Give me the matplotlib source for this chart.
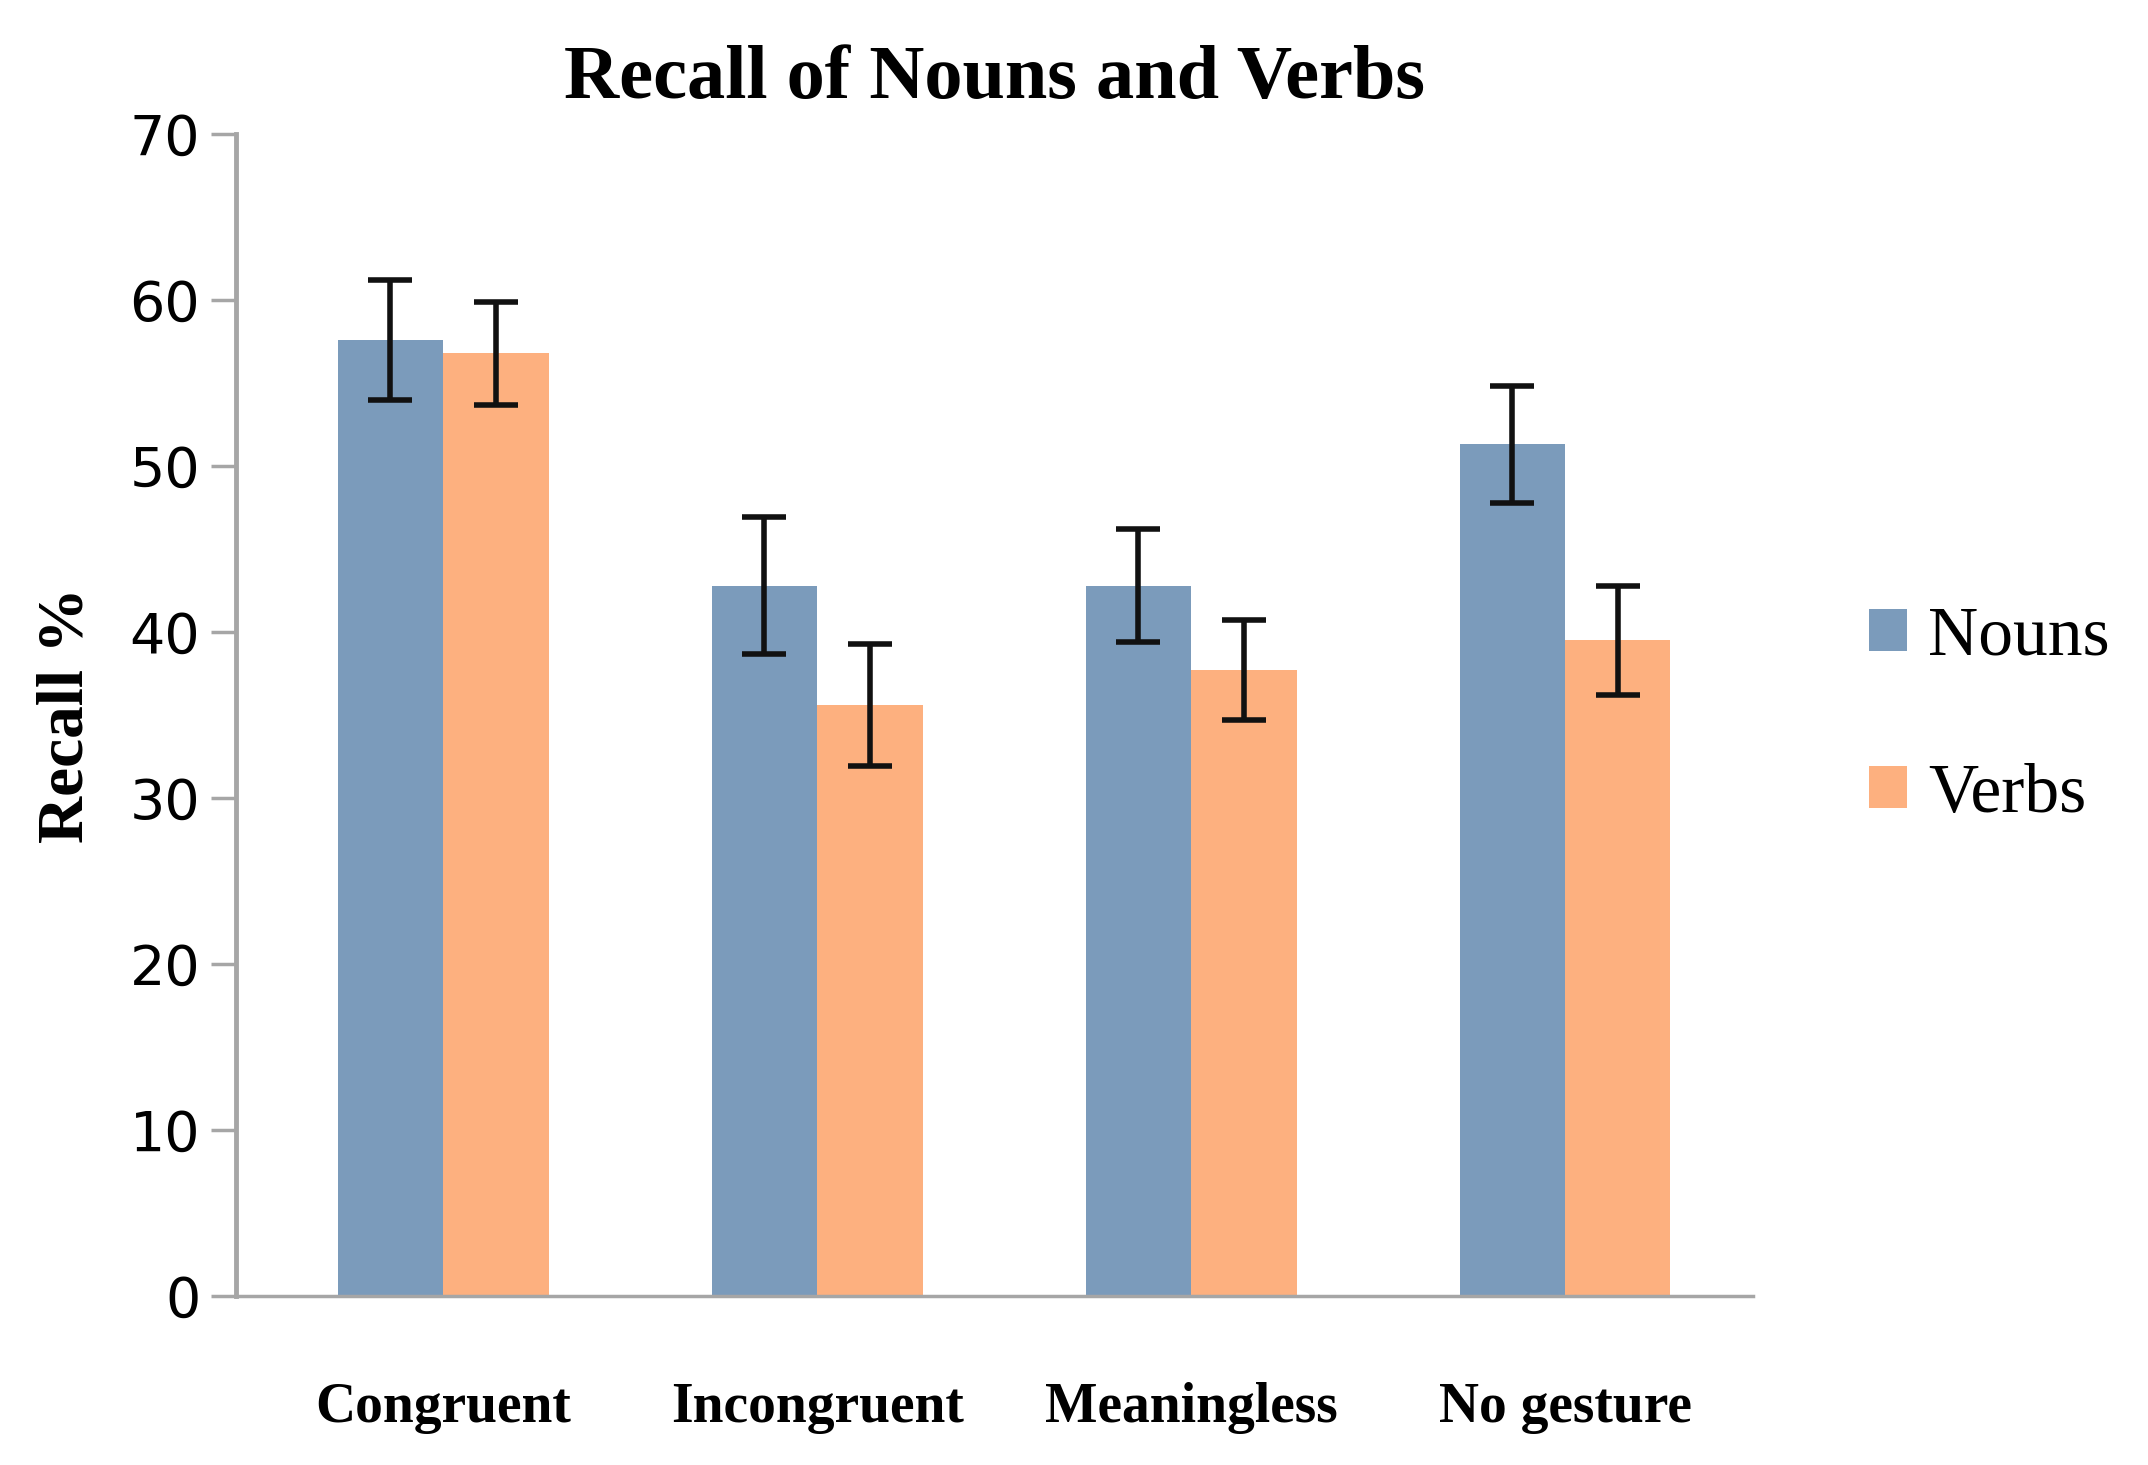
import numpy as np
import matplotlib.pyplot as plt

# data
categories = ['Congruent', 'Incongruent', 'Meaningless', 'No gesture']
nouns = [57.6, 42.8, 42.8, 51.3]
verbs = [56.8, 35.6, 37.7, 39.5]
nouns_err = [3.6, 4.1, 3.4, 3.5]
verbs_err = [3.1, 3.7, 3.0, 3.3]

plt.rcParams['font.family'] = ['Liberation Serif', 'DejaVu Serif']

fig = plt.figure(figsize=(21.48, 14.65), dpi=100)
ax = fig.add_axes([0.110, 0.1154, 0.706, 0.7931])

x = np.arange(len(categories))
w = 0.282
ekw = dict(ecolor='#111111', elinewidth=4, capsize=16, capthick=4)
ax.bar(x - w / 2, nouns, w, yerr=nouns_err, color='#7b9bbb', label='Nouns', error_kw=ekw)
ax.bar(x + w / 2, verbs, w, yerr=verbs_err, color='#fdb07f', label='Verbs', error_kw=ekw)

ax.set_ylim(0, 70)
ax.set_xlim(-0.553, 3.502)
ax.set_yticks(range(0, 71, 10))
ax.set_yticklabels([str(v) for v in range(0, 71, 10)], family='DejaVu Sans')
ax.set_xticks(x)
ax.set_xticklabels(categories, fontsize=40, fontweight='bold')
ax.tick_params(axis='x', length=0, pad=62)
ax.tick_params(axis='y', labelsize=40, length=18, width=2.5, color='#a6a6a6', pad=8)

for s in ['top', 'right']:
    ax.spines[s].set_visible(False)
ax.spines['left'].set_color('#a6a6a6')
ax.spines['left'].set_linewidth(3.5)
ax.spines['bottom'].set_color('#a6a6a6')
ax.spines['bottom'].set_linewidth(2.5)

ax.set_ylabel('Recall %', fontsize=47, fontweight='bold', labelpad=24)
ax.set_title('Recall of Nouns and Verbs', fontsize=55, fontweight='bold', pad=26)

fig.legend(loc='center left', bbox_to_anchor=(0.870, 0.511), frameon=False,
           fontsize=50, handlelength=0.55, handleheight=0.55, handletextpad=0.3,
           labelspacing=1.35, borderpad=0, borderaxespad=0)

fig.savefig('out.png', dpi=100)
